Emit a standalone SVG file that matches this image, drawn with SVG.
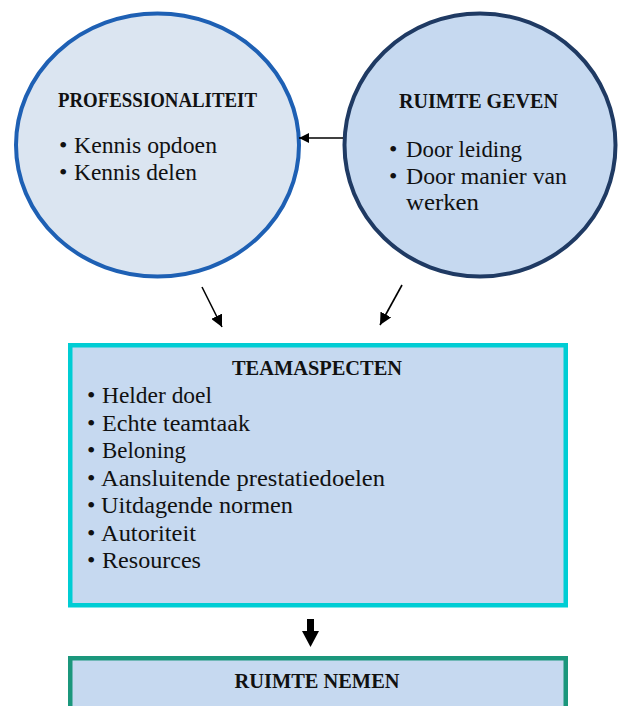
<svg xmlns="http://www.w3.org/2000/svg" width="623" height="706" viewBox="0 0 623 706">
<defs>
<style>
.t{font-family:"Liberation Serif","Times New Roman",serif;font-size:24px;fill:#111}
.b{font-family:"Liberation Serif","Times New Roman",serif;font-size:20.5px;font-weight:bold;fill:#111}
.con{stroke:#000;stroke-width:1.6;fill:none}
</style>
<marker id="ah" viewBox="0 0 10 10" refX="10" refY="5" markerWidth="10" markerHeight="10" markerUnits="userSpaceOnUse" orient="auto">
<path d="M0,0 L10,5 L0,10 Z" fill="#000"/>
</marker>
<marker id="ah2" viewBox="0 0 10 10" refX="10" refY="5" markerWidth="12" markerHeight="12" markerUnits="userSpaceOnUse" orient="auto">
<path d="M0,0 L10,5 L0,10 Z" fill="#000"/>
</marker>
</defs>
<rect width="623" height="706" fill="#fff"/>
<g id="professionaliteit">
<ellipse cx="157.5" cy="145" rx="141.5" ry="131.5" fill="#DBE5F1" stroke="#1E60B4" stroke-width="4"/>
<text class="b" x="58" y="107" textLength="199" lengthAdjust="spacingAndGlyphs">PROFESSIONALITEIT</text>
<text class="t" x="59" y="153">•</text><text class="t" x="74" y="153" textLength="143" lengthAdjust="spacingAndGlyphs">Kennis opdoen</text>
<text class="t" x="59" y="180">•</text><text class="t" x="74" y="180" textLength="123" lengthAdjust="spacingAndGlyphs">Kennis delen</text>
</g>
<g id="ruimte-geven">
<ellipse cx="480" cy="145" rx="135.5" ry="131.5" fill="#C6D9F0" stroke="#1F3A63" stroke-width="4"/>
<text class="b" x="399" y="108" textLength="159" lengthAdjust="spacingAndGlyphs">RUIMTE GEVEN</text>
<text class="t" x="389" y="157">•</text><text class="t" x="406" y="157" textLength="116" lengthAdjust="spacingAndGlyphs">Door leiding</text>
<text class="t" x="389" y="184">•</text><text class="t" x="406" y="184" textLength="161" lengthAdjust="spacingAndGlyphs">Door manier van</text>
<text class="t" x="406" y="210" textLength="73" lengthAdjust="spacingAndGlyphs">werken</text>
</g>
<g id="teamaspecten">
<rect x="70.25" y="345.25" width="495.5" height="260" fill="#C6D9F0" stroke="#00CDD4" stroke-width="4.5"/>
<text class="b" x="317" y="375" text-anchor="middle" textLength="170" lengthAdjust="spacingAndGlyphs">TEAMASPECTEN</text>
<text class="t" x="87" y="403">•</text><text class="t" x="102" y="403" textLength="110" lengthAdjust="spacingAndGlyphs">Helder doel</text>
<text class="t" x="87" y="431">•</text><text class="t" x="102" y="431" textLength="148" lengthAdjust="spacingAndGlyphs">Echte teamtaak</text>
<text class="t" x="87" y="458">•</text><text class="t" x="102" y="458" textLength="84" lengthAdjust="spacingAndGlyphs">Beloning</text>
<text class="t" x="87" y="486">•</text><text class="t" x="101" y="486" textLength="284" lengthAdjust="spacingAndGlyphs">Aansluitende prestatiedoelen</text>
<text class="t" x="87" y="513">•</text><text class="t" x="101" y="513" textLength="192" lengthAdjust="spacingAndGlyphs">Uitdagende normen</text>
<text class="t" x="87" y="541">•</text><text class="t" x="101" y="541" textLength="95" lengthAdjust="spacingAndGlyphs">Autoriteit</text>
<text class="t" x="87" y="568">•</text><text class="t" x="102" y="568" textLength="99" lengthAdjust="spacingAndGlyphs">Resources</text>
</g>
<g id="ruimte-nemen">
<rect x="70.25" y="658.25" width="495.5" height="60" fill="#C6D9F0" stroke="#1B977C" stroke-width="4.5"/>
<text class="b" x="317" y="688" text-anchor="middle" textLength="165" lengthAdjust="spacingAndGlyphs">RUIMTE NEMEN</text>
</g>
<g id="connectors">
<line class="con" x1="343" y1="138" x2="299" y2="138" marker-end="url(#ah)"/>
<line class="con" x1="202" y1="287" x2="222" y2="327" marker-end="url(#ah2)"/>
<line class="con" x1="402" y1="285" x2="380" y2="325" marker-end="url(#ah2)"/>
<path d="M307,619 H314 V631 H319 L310.5,647 L302,631 H307 Z" fill="#000"/>
</g>
</svg>
